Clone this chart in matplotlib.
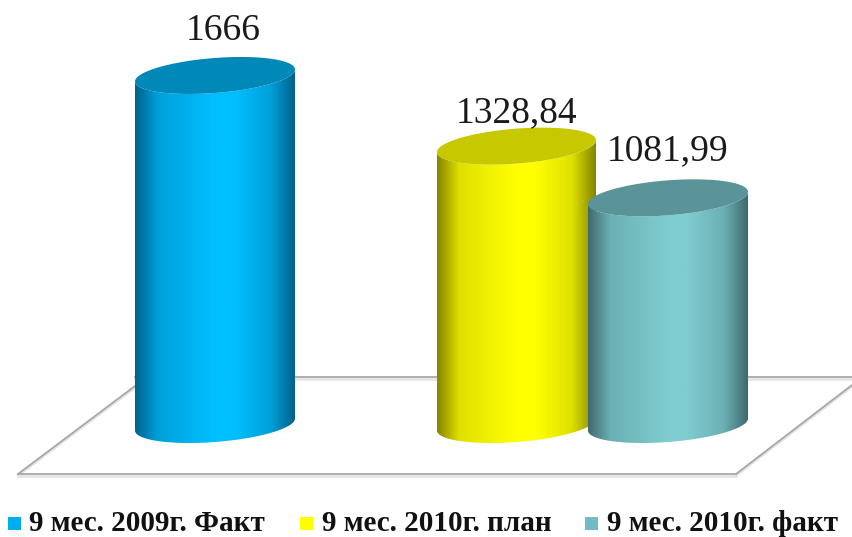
import numpy as np
import matplotlib
matplotlib.use("Agg")
import matplotlib.pyplot as plt
from matplotlib.colors import LinearSegmentedColormap
from matplotlib.patches import Polygon, Rectangle

plt.rcParams["font.family"] = ["Liberation Serif", "DejaVu Serif"]

# data
series = ["9 мес. 2009г. Факт", "9 мес. 2010г. план", "9 мес. 2010г. факт"]
values = [1666, 1328.84, 1081.99]
value_labels = ["1666", "1328,84", "1081,99"]

# colours: edge, mid, bright, top of the cylinder, legend square
edge_cols = ["#00618A", "#858500", "#3F6A6E"]
mid_cols = ["#00A0DA", "#E0E000", "#6BB0B4"]
bright_cols = ["#00BFFF", "#FFFF00", "#7FCDD0"]
top_cols = ["#0088B8", "#C8C800", "#5A9498"]
legend_cols = ["#00AEEF", "#FFFF00", "#70BCC4"]

# layout, in pixels of the 852x537 picture
W, H = 852, 537
centers = [215, 516.5, 668]
half_w = [80, 79.5, 80]
label_x = [223, 517, 668]
label_gap = [45, 33, 47]
base_px = 424.5
px_per_unit = 0.2095
ell_b = 17.5
ell_k = 6.0
legend_sq_x = [8, 300, 585]
legend_txt_x = [29, 322, 607]


def val(py):
    # pixel row -> value on the y axis
    return (base_px - py) / px_per_unit


fig = plt.figure(figsize=(W / 100, H / 100), dpi=100)
ax = fig.add_axes([0, 0, 1, 1])
ax.set_xlim(0, W)
ax.set_ylim(val(H), val(0))
ax.axis("off")


def floor_line(xs, ys):
    # grey line with a faint shadow under it
    ax.plot(xs, [val(y + 1.5) for y in ys], color="#E2E2E2", lw=1.8, zorder=1)
    ax.plot(xs, [val(y) for y in ys], color="#A8A8A8", lw=1.3, zorder=2)


floor_line([135, 852], [377, 377])
floor_line([18, 736], [474, 474])
floor_line([18, 135], [474, 386])
floor_line([736, 852], [474, 385])

t = np.linspace(0, 2 * np.pi, 200)

for i, v in enumerate(values):
    cx, a = centers[i], half_w[i]
    z = 3 + i
    ex = a * np.cos(t)
    # shear makes the ellipse rise to the right
    ey = (ell_b * np.sin(t) + ell_k * np.cos(t)) / px_per_unit

    # side of the cylinder: front half of the bottom ellipse plus top ellipse
    low = np.sin(t) < 0
    order = np.argsort(ex[low])
    side = np.column_stack([
        np.r_[cx + ex[low][order], cx + ex[low][order][::-1]],
        np.r_[ey[low][order], v + ey[low][order][::-1]],
    ])
    poly = Polygon(side, closed=True, transform=ax.transData, facecolor="none", edgecolor="none")
    ax.add_patch(poly)

    cmap = LinearSegmentedColormap.from_list(
        "c" + str(i),
        [(0, edge_cols[i]), (0.14, mid_cols[i]), (0.5, bright_cols[i]),
         (0.62, bright_cols[i]), (0.85, mid_cols[i]), (1, edge_cols[i])],
    )
    grad = np.linspace(0, 1, 256).reshape(1, -1)
    im = ax.imshow(grad, cmap=cmap, aspect="auto", zorder=z,
                   extent=[cx - a, cx + a, val(H), val(0)])
    im.set_clip_path(poly)

    ax.fill(cx + ex, v + ey, color=top_cols[i], lw=0, zorder=z + 0.1)

    ax.text(label_x[i], v + label_gap[i] / px_per_unit, value_labels[i],
            fontsize=27, color="#1A1A1A", ha="center", va="center", zorder=10)

    ax.add_patch(Rectangle((legend_sq_x[i], val(530)), 13, 13 / px_per_unit,
                           facecolor=legend_cols[i], edgecolor="none", zorder=10))
    ax.text(legend_txt_x[i], val(531), series[i], fontsize=21, fontweight="bold",
            color="#111111", ha="left", va="baseline", zorder=10)

ax.set_xlim(0, W)
ax.set_ylim(val(H), val(0))
fig.savefig("out.png", dpi=100)
